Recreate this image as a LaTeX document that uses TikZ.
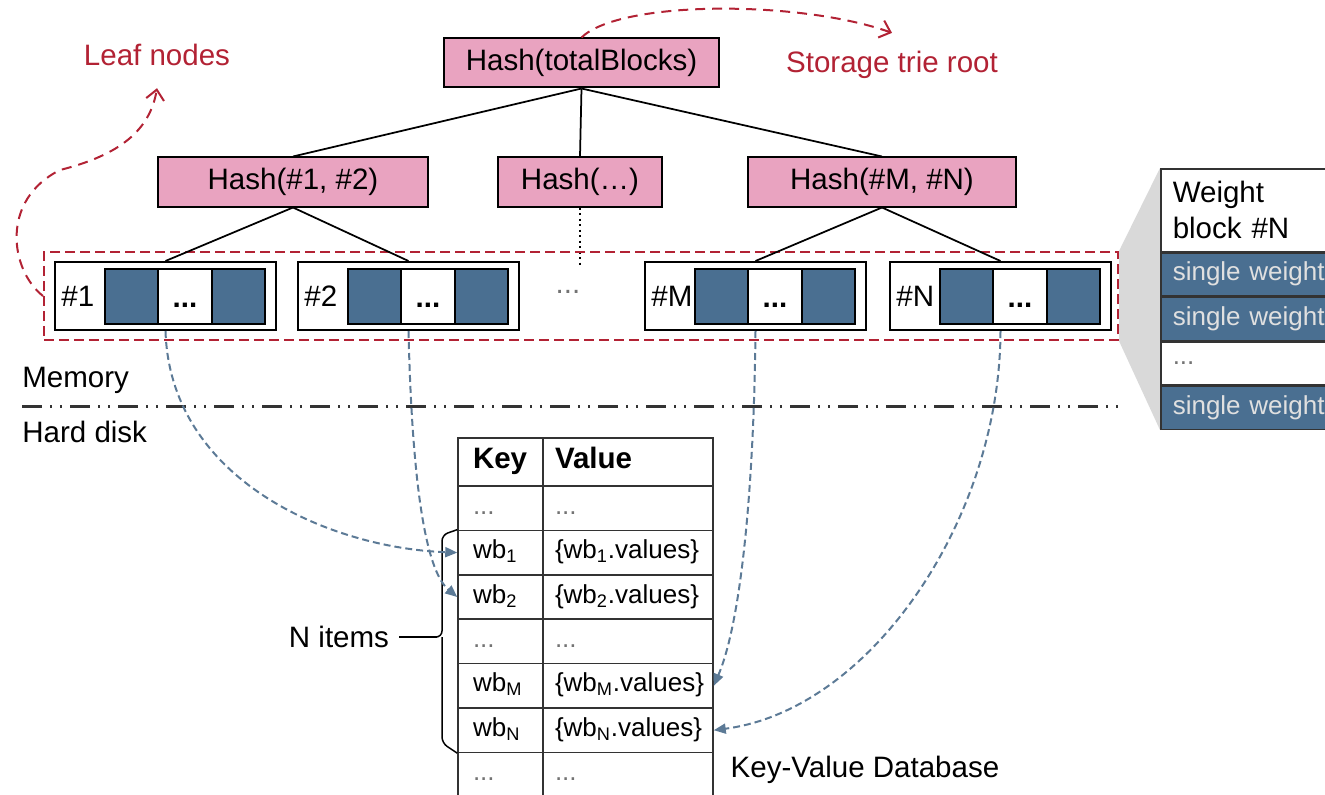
\documentclass[tikz,border=0pt]{standalone}
\usepackage{fontspec}
\setmainfont{Liberation Sans}
\usetikzlibrary{arrows.meta,positioning,calc,backgrounds}

\definecolor{hashPink}{RGB}{233,163,192}
\definecolor{cellBlue}{RGB}{74,111,145}
\definecolor{trieRed}{RGB}{178,34,52}
\definecolor{linkBlue}{RGB}{92,122,150}
\definecolor{fadeGray}{RGB}{217,217,217}

\newcommand{\bigtext}{\fontsize{16.8}{20}\selectfont}
\newcommand{\smalltext}{\fontsize{14.8}{17}\selectfont}
\newcommand{\gdots}{\textcolor{black!55}{...}}

\tikzset{
  hashbox/.style={draw,line width=0.4mm,fill=hashPink,minimum height=9.8mm,inner sep=0pt,font=\bigtext},
  leafbox/.style={draw,line width=0.4mm,fill=white,minimum width=44.2mm,minimum height=13.6mm,inner sep=0pt},
  blueCell/.style={draw,line width=0.4mm,fill=cellBlue,minimum width=10.67mm,minimum height=11mm,inner sep=0pt},
  dotCell/.style={blueCell,fill=white,font=\bigtext\bfseries,text height=4.4mm,text depth=0pt},
  redLink/.style={draw=trieRed,line width=0.4mm,dash pattern=on 2mm off 1.4mm,-{Straight Barb[length=2mm,width=3.6mm]}},
  blueLink/.style={draw=linkBlue,line width=0.4mm,dash pattern=on 1.4mm off 0.8mm,-{Triangle[length=2.4mm,width=2mm]}},
  keyCell/.style={draw=black!80,line width=0.3mm,minimum height=8.88mm,text width=11mm,inner xsep=3mm,inner ysep=0pt,
    align=left,font=\smalltext,text height=3.6mm,text depth=1.2mm},
  valCell/.style={keyCell,text width=29.2mm,inner xsep=2.4mm},
  wbRow/.style={draw=black!80,line width=0.3mm,fill=cellBlue,text=white!88!black,minimum height=8.6mm,text width=40mm,
    inner xsep=2.4mm,inner ysep=0pt,align=left,font=\smalltext,anchor=north west},
  plainLabel/.style={font=\bigtext,inner sep=0pt},
  redLabel/.style={plainLabel,text=trieRed},
}

\begin{document}
\begin{tikzpicture}[x=0.2mm,y=-0.2mm]
\useasboundingbox (0,0) rectangle (1325,795);

% ===== Storage trie (hash nodes) =====
\node[hashbox, minimum width=55mm] (root) at (581.5,63) {Hash(totalBlocks)};
\node[hashbox, minimum width=54mm] (hash12) at (293,182) {Hash(\#1, \#2)};
\node[hashbox, minimum width=32.8mm] (hashMid) at (580,182) {Hash(…)};
\node[hashbox, minimum width=53.6mm] (hashMN) at (882,182) {Hash(\#M, \#N)};
\foreach \c in {hash12,hashMid,hashMN} {\draw[line width=0.35mm] (root.south) -- (\c.north);}
\coordinate (midEnd) at (580,266);
\draw[dotted, line width=0.4mm] (hashMid.south) -- (midEnd);

\node[redLabel] (leafLbl) at (157,55) {Leaf nodes};
\node[redLabel] (trieLbl) at (892,65) {Storage trie root};

% ===== Leaf weight blocks in memory =====
\node[draw=trieRed, line width=0.4mm, dash pattern=on 2mm off 1mm, minimum width=214.8mm, minimum height=17.6mm, inner sep=0pt]
  (leafFrame) at (581,296) {};
\foreach \name/\lbl/\lx in {b1/1/55, b2/2/298, bM/M/645, bN/N/890} {
  \node[leafbox] (\name) at ({\lx+110.5},296) {};
  \node[plainLabel, anchor=west] (\name lbl) at ({\lx+6},296) {\#\lbl};
  \node[blueCell] (\name c1) at ({\lx+76.7},296.5) {};
  \node[dotCell] (\name c2) at ({\lx+130},296.5) {...};
  \node[blueCell] (\name c3) at ({\lx+183.3},296.5) {};
}
\node[plainLabel, text=black!55] (gapDots) at (568,292) {...};
\draw[line width=0.35mm] (hash12.south) -- (b1.north);
\draw[line width=0.35mm] (hash12.south) -- (b2.north);
\draw[line width=0.35mm] (hashMN.south) -- (bM.north);
\draw[line width=0.35mm] (hashMN.south) -- (bN.north);

% ===== Zoom on weight block #N =====
\node[wbRow, fill=white, text=black, font=\bigtext, minimum height=16.5mm] (wbHead) at (1160,168) {Weight\\block \#N};
\node[wbRow, below=0mm of wbHead] (wb1) {single weight};
\node[wbRow, below=0mm of wb1] (wb2) {single weight};
\node[wbRow, fill=white, below=0mm of wb2] (wbDots) {\gdots};
\node[wbRow, below=0mm of wbDots] (wbLast) {single weight};
\begin{scope}[on background layer]
  \fill[fadeGray] (leafFrame.north east) -- (wbHead.north west) -- (wbLast.south west) -- (leafFrame.south east) -- cycle;
\end{scope}

% ===== Memory / hard disk border =====
\node[plainLabel, anchor=west] (memLbl) at (22,380) {Memory};
\node[plainLabel, anchor=west] (diskLbl) at (22,432) {Hard disk};
\coordinate (divL) at (22,406);
\coordinate (divR) at (1125,406);
\draw[black!80, line width=0.6mm, dash pattern=on 4mm off 1.6mm on 0.4mm off 1.6mm on 0.4mm off 1.6mm] (divL) -- (divR);

% ===== Key-value database =====
\node[keyCell, minimum height=9.6mm, font=\bigtext\bfseries] (kHead) at (500.5,462) {Key};
\node[valCell, minimum height=9.6mm, font=\bigtext\bfseries] (vHead) at (628,462) {Value};
\foreach [count=\i] \k/\v in {\gdots/\gdots,
    wb\textsubscript{1}/\{wb\textsubscript{1}.values\},
    wb\textsubscript{2}/\{wb\textsubscript{2}.values\},
    \gdots/\gdots,
    wb\textsubscript{M}/\{wb\textsubscript{M}.values\},
    wb\textsubscript{N}/\{wb\textsubscript{N}.values\},
    \gdots/\gdots} {
  \node[keyCell] (k\i) at (500.5,{508.2+44.4*(\i-1)}) {\k};
  \node[valCell] (v\i) at (628,{508.2+44.4*(\i-1)}) {\v};
}
\node[plainLabel] (dbLbl) at (865,770) {Key-Value Database};

% brace over the N items
\coordinate (braceTip) at (437,637);
\draw[line width=0.3mm, rounded corners=1.2mm] (k2.north west) -- (442,535) -- (442,637) -- (braceTip)
  (442,637) -- (442,743) -- (k6.south west);
\node[plainLabel] (nItems) at (339,637) {N items};
\draw[line width=0.3mm, shorten <=2mm] (nItems.east) -- (braceTip);

% ===== Links =====
\draw[redLink] (leafFrame.west) .. controls (10,270) and (0,200) .. (60,170)
  .. controls (120,155) and (150,130) .. ($(leafLbl.south)+(0,22)$);
\draw[redLink] (root.north) .. controls (620,0) and (800,0) .. ($(trieLbl.north)+(0,-18)$);

\draw[blueLink] (b1.south) .. controls (170,480) and (330,548) .. (k2.west);
\draw[blueLink] (b2.south) .. controls (412,480) and (425,570) .. (k3.west);
\draw[blueLink] (bM.south) .. controls (754,480) and (742,620) .. (v5.east);
\draw[blueLink] (bN.south) .. controls (1000,520) and (870,710) .. (v6.east);

\end{tikzpicture}
\end{document}
